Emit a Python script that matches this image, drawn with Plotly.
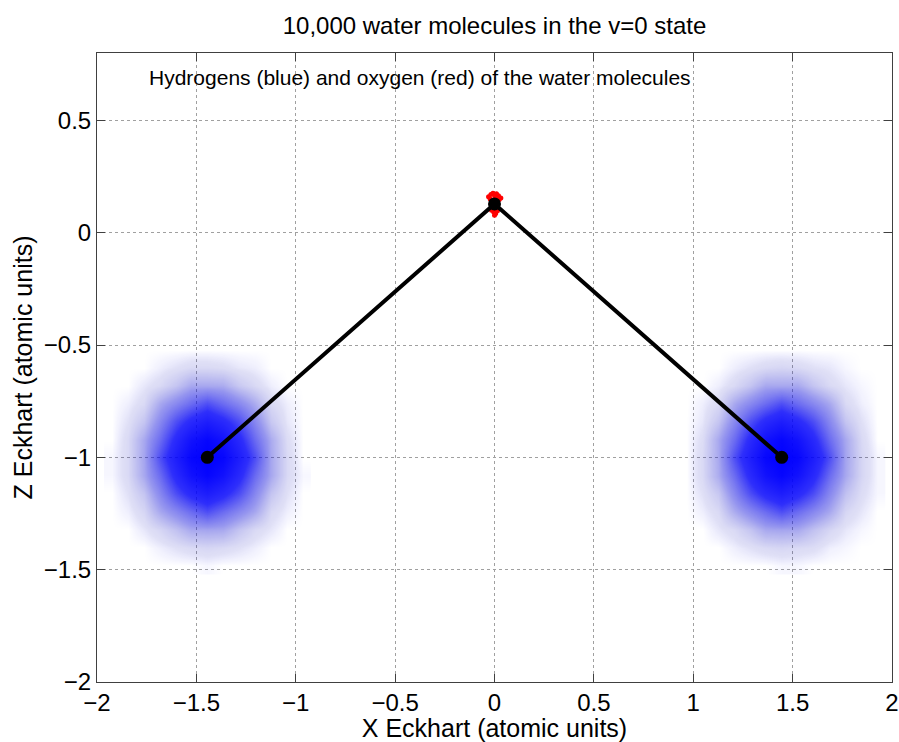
import plotly.graph_objects as go

# ---------------- data ----------------
# Equilibrium (Eckhart) geometry drawn in black: H1 - O - H2
geom_x = [-1.445, 0.0, 1.445]
geom_z = [-1.0, 0.128, -1.0]

# Oxygen samples (red), read as individual spots
oxy_x = [-0.030, -0.018, -0.008, 0.000, 0.010, 0.020, 0.032, -0.022, 0.024, 0.004,
         -0.012, 0.014, -0.015, -0.004, 0.006, 0.015, 0.000, -0.010, 0.010, 0.002]
oxy_z = [0.160, 0.170, 0.176, 0.168, 0.174, 0.165, 0.155, 0.150, 0.148, 0.158,
         0.145, 0.142, 0.100, 0.092, 0.085, 0.098, 0.078, 0.108, 0.106, 0.095]

# Hydrogen sample clouds (blue): visual dot density on a 0.08 grid, 0..10
h_left_x = [-1.925, -1.845, -1.765, -1.685, -1.605, -1.525, -1.445,
            -1.365, -1.285, -1.205, -1.125, -1.045, -0.965]
h_right_x = [0.965, 1.045, 1.125, 1.205, 1.285, 1.365, 1.445,
             1.525, 1.605, 1.685, 1.765, 1.845, 1.925]
h_z = [-1.48, -1.40, -1.32, -1.24, -1.16, -1.08, -1.00,
       -0.92, -0.84, -0.76, -0.68, -0.60, -0.52]

h_left_density = [
    [0, 0, 0, 0, 0, 0, 0.1, 0, 0, 0, 0, 0, 0],
    [0, 0, 0, 0.2, 0.4, 0.6, 0.7, 0.6, 0.4, 0.2, 0, 0, 0],
    [0, 0, 0.3, 0.7, 1.3, 2.0, 2.1, 2.0, 1.2, 0.6, 0.3, 0, 0],
    [0, 0.2, 0.7, 2.0, 3.0, 4.0, 5.0, 4.0, 3.0, 2.0, 0.6, 0.2, 0],
    [0, 0.4, 1.2, 3.0, 5.0, 6.5, 7.5, 6.5, 5.0, 3.0, 1.2, 0.4, 0],
    [0.1, 0.6, 2.0, 4.0, 6.5, 8.5, 9.5, 8.5, 6.5, 4.0, 2.0, 0.6, 0.1],
    [0.1, 0.6, 2.1, 5.0, 7.5, 9.5, 10, 9.5, 7.5, 5.0, 2.0, 0.6, 0],
    [0, 0.6, 2.0, 4.0, 6.5, 8.5, 9.5, 8.5, 6.5, 4.0, 1.9, 0.5, 0],
    [0, 0.4, 1.2, 3.0, 5.0, 6.5, 7.5, 6.5, 5.0, 3.0, 1.1, 0.3, 0],
    [0, 0.2, 0.6, 2.0, 3.0, 4.0, 5.0, 4.0, 3.0, 1.9, 0.6, 0.2, 0],
    [0, 0, 0.3, 0.6, 1.2, 2.0, 2.0, 1.9, 1.1, 0.6, 0.2, 0, 0],
    [0, 0, 0, 0.2, 0.4, 0.6, 0.6, 0.5, 0.3, 0.2, 0, 0, 0],
    [0, 0, 0, 0, 0, 0, 0, 0, 0, 0, 0, 0, 0],
]

h_right_density = [
    [0, 0, 0, 0, 0, 0, 0.1, 0.1, 0, 0, 0, 0, 0],
    [0, 0, 0, 0.2, 0.4, 0.6, 0.7, 0.6, 0.5, 0.2, 0.1, 0, 0],
    [0, 0, 0.3, 0.6, 1.2, 2.0, 2.1, 2.0, 1.3, 0.7, 0.3, 0.1, 0],
    [0, 0.2, 0.6, 1.9, 3.0, 4.0, 5.0, 4.0, 3.0, 2.0, 0.7, 0.3, 0],
    [0, 0.4, 1.1, 3.0, 5.0, 6.5, 7.5, 6.5, 5.0, 3.0, 1.3, 0.5, 0.1],
    [0, 0.6, 1.9, 4.0, 6.5, 8.5, 9.5, 8.5, 6.5, 4.0, 2.0, 0.7, 0.1],
    [0, 0.6, 2.0, 5.0, 7.5, 9.5, 10, 9.5, 7.5, 5.0, 2.1, 0.7, 0.1],
    [0, 0.5, 2.0, 4.0, 6.5, 8.5, 9.5, 8.5, 6.5, 4.0, 2.0, 0.6, 0],
    [0, 0.3, 1.2, 3.0, 5.0, 6.5, 7.5, 6.5, 5.0, 3.0, 1.2, 0.4, 0],
    [0, 0.2, 0.6, 2.0, 3.0, 4.0, 5.0, 4.0, 3.0, 2.0, 0.6, 0.2, 0],
    [0, 0, 0.2, 0.6, 1.2, 2.0, 2.0, 2.0, 1.2, 0.6, 0.3, 0.1, 0],
    [0, 0, 0, 0.2, 0.4, 0.6, 0.7, 0.6, 0.4, 0.3, 0.1, 0, 0],
    [0, 0, 0, 0, 0, 0, 0, 0, 0, 0, 0, 0, 0],
]

x_ticks = [-2, -1.5, -1, -0.5, 0, 0.5, 1, 1.5, 2]
x_tick_text = ["\u22122", "\u22121.5", "\u22121", "\u22120.5", "0", "0.5", "1", "1.5", "2"]
z_ticks = [-2, -1.5, -1, -0.5, 0, 0.5]
z_tick_text = ["\u22122", "\u22121.5", "\u22121", "\u22120.5", "0", "0.5"]

# ---------------- figure ----------------
FONT = "Liberation Sans, Arial, Helvetica, sans-serif"
blue_scale = [
    [0.0, "rgba(0,0,255,0)"],
    [0.04, "rgba(30,30,190,0.14)"],
    [0.25, "rgba(20,20,220,0.45)"],
    [0.6, "rgba(0,0,250,0.82)"],
    [1.0, "rgba(0,0,255,1)"],
]

fig = go.Figure()
for hx, hd in ((h_left_x, h_left_density), (h_right_x, h_right_density)):
    fig.add_trace(go.Heatmap(
        x=hx, y=h_z, z=hd, zmin=0, zmax=10, zsmooth="best",
        colorscale=blue_scale, showscale=False, hoverinfo="skip"))

fig.add_trace(go.Scatter(
    x=oxy_x, y=oxy_z, mode="markers",
    marker=dict(color="red", size=5, line=dict(width=0)),
    hoverinfo="skip"))

fig.add_trace(go.Scatter(
    x=geom_x, y=geom_z, mode="lines+markers",
    line=dict(color="black", width=4),
    marker=dict(color="black", size=13),
    hoverinfo="skip"))

axis_common = dict(
    showline=True, linecolor="#404040", linewidth=1, mirror="ticks",
    ticks="inside", ticklen=8, tickcolor="#404040",
    showgrid=True, gridcolor="#a0a0a0", griddash="dot", gridwidth=1,
    zeroline=False, automargin=False,
    tickfont=dict(family=FONT, size=24, color="black"),
)

fig.update_layout(
    width=899, height=742,
    margin=dict(l=97, r=7, t=53, b=60),
    paper_bgcolor="white", plot_bgcolor="white",
    showlegend=False,
    font=dict(family=FONT, color="black"),
    title=dict(text="10,000 water molecules in the v=0 state",
               font=dict(family=FONT, size=24, color="black"),
               x=0.5, xref="paper", xanchor="center",
               y=0.965, yref="container", yanchor="middle"),
    xaxis=dict(range=[-2, 2], tickvals=x_ticks, ticktext=x_tick_text,
               ticklabelstandoff=-1,
               title=dict(text="X Eckhart (atomic units)",
                          font=dict(family=FONT, size=25), standoff=0),
               **axis_common),
    yaxis=dict(range=[-2, 0.8], tickvals=z_ticks, ticktext=z_tick_text,
               title=dict(text="Z Eckhart (atomic units)",
                          font=dict(family=FONT, size=25), standoff=4),
               **axis_common),
    annotations=[dict(
        text="Hydrogens (blue) and oxygen (red) of the water molecules",
        x=-1.75, y=0.693, xref="x", yref="y", xanchor="left", yanchor="middle",
        showarrow=False, font=dict(family=FONT, size=21, color="black"))],
)

fig.write_html(
    "out.html",
    config={"displayModeBar": False},
    post_script="document.body.style.margin='0';document.body.style.overflow='hidden';",
)
